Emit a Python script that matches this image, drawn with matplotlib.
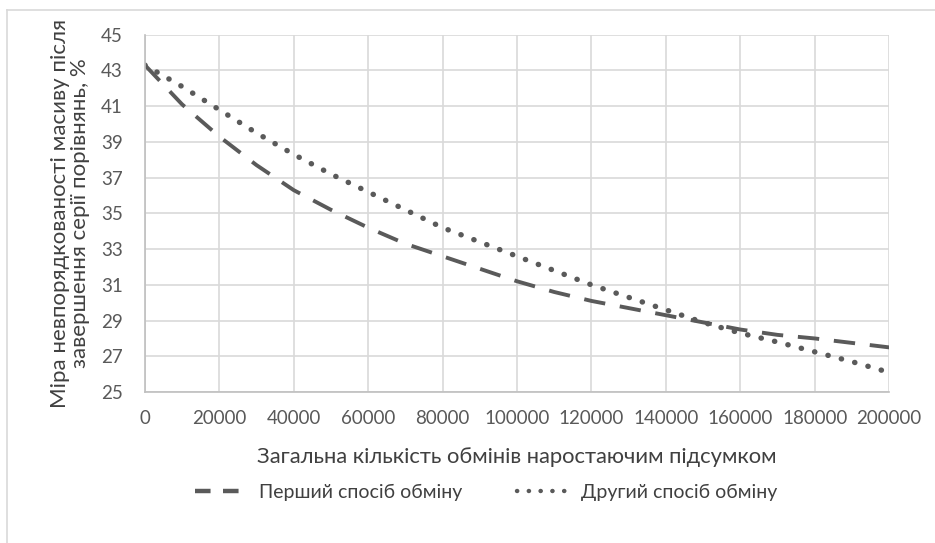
import matplotlib
matplotlib.use("Agg")
import matplotlib.pyplot as plt
from matplotlib.lines import Line2D

plt.rcParams['font.family'] = ['Lato', 'Roboto', 'DejaVu Sans']

# дані
x_vals = [0, 10000, 20000, 30000, 40000, 50000, 60000, 70000, 80000, 90000, 100000,
          110000, 120000, 130000, 140000, 150000, 160000, 170000, 180000, 190000, 200000]
first_way = [43.3, 41.1, 39.3, 37.7, 36.3, 35.2, 34.2, 33.3, 32.6, 31.9, 31.2,
             30.6, 30.1, 29.7, 29.3, 28.9, 28.5, 28.2, 28.0, 27.75, 27.5]
second_way = [43.3, 42.1, 40.8, 39.5, 38.3, 37.2, 36.2, 35.2, 34.2, 33.4, 32.6,
              31.8, 31.0, 30.3, 29.6, 28.9, 28.3, 27.8, 27.25, 26.7, 26.1]

y_ticks = list(range(25, 46, 2))
x_ticks = list(range(0, 200001, 20000))

fig = plt.figure(figsize=(9.35, 5.43), dpi=100)
ax = fig.add_axes([0.155, 0.278, 0.796, 0.658])

line_color = '#5a5a5a'
ax.plot(x_vals, first_way, color=line_color, lw=2.8, linestyle=(0, (5.5, 3.8)),
        dash_capstyle='butt', label='Перший спосіб обміну')
ax.plot(x_vals, second_way, color=line_color, lw=3.9, linestyle=(0, (0.05, 2.5)),
        dash_capstyle='round', label='Другий спосіб обміну')

ax.set_xlim(0, 200000)
ax.set_ylim(25, 45)
ax.set_xticks(x_ticks)
ax.set_yticks(y_ticks)
ax.set_xticklabels([str(v) for v in x_ticks])
ax.tick_params(axis='y', length=0, labelsize=13.5, colors='#595959', pad=16)
ax.tick_params(axis='x', length=0, labelsize=13.5, colors='#595959', pad=13)
ax.grid(True, color='#d9d9d9', lw=1.2)
ax.set_axisbelow(True)
for s in ['top', 'right']:
    ax.spines[s].set_visible(False)
for s in ['left', 'bottom']:
    ax.spines[s].set_color('#bfbfbf')
    ax.spines[s].set_linewidth(1.2)

ax.set_xlabel('Загальна кількість обмінів наростаючим підсумком',
              fontsize=15.8, color='#404040', labelpad=14)
ax.set_ylabel('Міра невпорядкованості масиву після\nзавершення серії порівнянь, %',
              fontsize=16, color='#404040', labelpad=8, linespacing=1.0)

handles = [Line2D([0], [0], color=line_color, lw=3.2, linestyle=(0, (3.5, 2.8))),
           Line2D([0], [0], color=line_color, lw=3.2, linestyle=(0, (0.05, 2.6)),
                  dash_capstyle='round')]
fig.legend(handles, ['Перший спосіб обміну', 'Другий спосіб обміну'],
           loc='center', bbox_to_anchor=(0.52, 0.094), ncol=2, frameon=False,
           fontsize=14, labelcolor='#404040', handlelength=2.5,
           handletextpad=0.8, columnspacing=2.8)

# рамка області діаграми (видимі лише верх і ліво)
fig.add_artist(Line2D([7 / 935, 1.0], [1 - 10 / 543, 1 - 10 / 543],
                      color='#d9d9d9', lw=1.2, transform=fig.transFigure))
fig.add_artist(Line2D([7 / 935, 7 / 935], [0, 1 - 10 / 543],
                      color='#d9d9d9', lw=1.2, transform=fig.transFigure))

fig.savefig('out.png', dpi=100)
